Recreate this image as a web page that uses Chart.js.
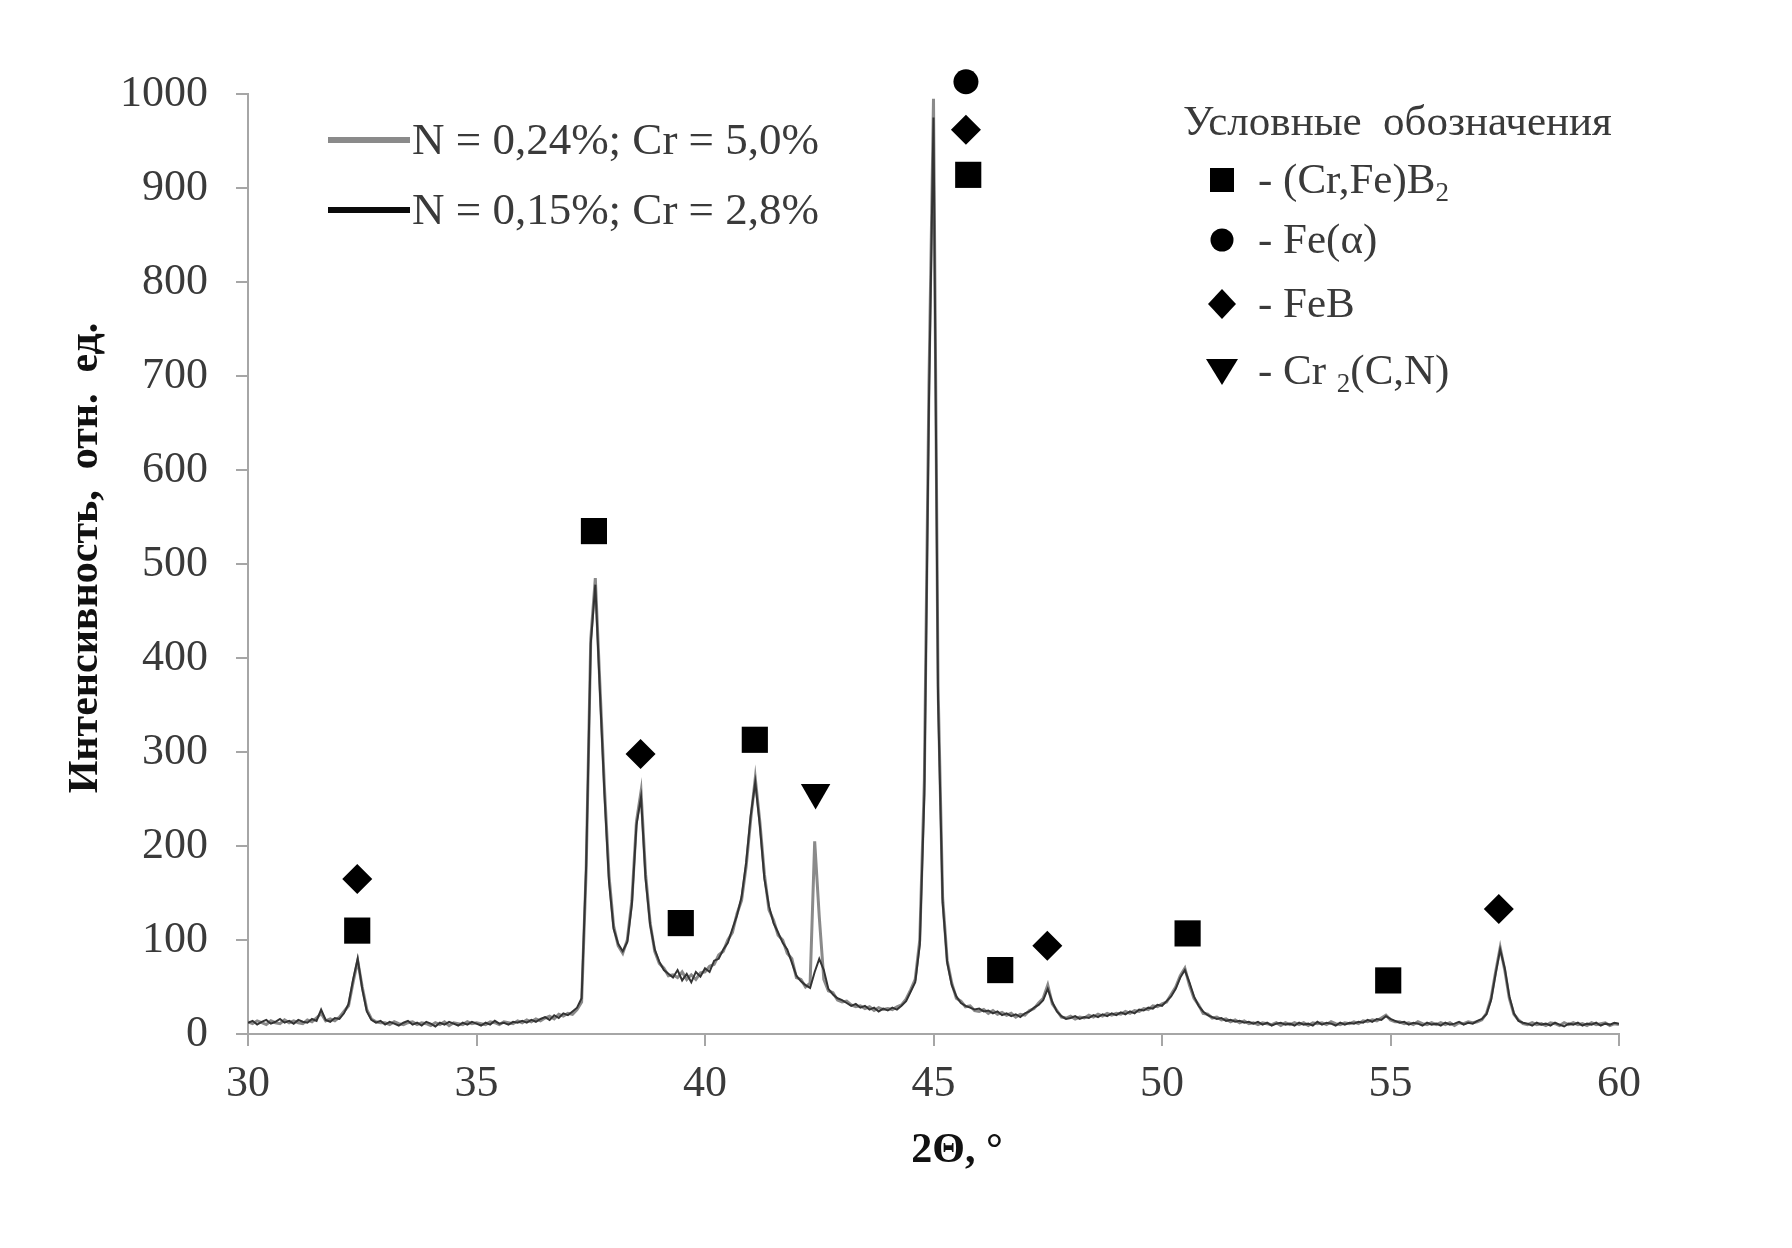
<!DOCTYPE html>
<html>
<head>
<meta charset="utf-8">
<title>XRD</title>
<script src="https://cdn.jsdelivr.net/npm/chart.js@4.4.1/dist/chart.umd.min.js"></script>
<style>
  html, body { margin: 0; padding: 0; background: #fff; }
  #wrap { width: 1792px; height: 1248px; }
</style>
</head>
<body>
<div id="wrap"><canvas id="xrd"></canvas></div>
<script>
// 2Theta grid, degrees
const twoTheta = [
  30.0, 30.1, 30.2, 30.3, 30.4, 30.5, 30.6, 30.7, 30.8, 30.9,
  31.0, 31.1, 31.2, 31.3, 31.4, 31.5, 31.6, 31.7, 31.8, 31.9,
  32.0, 32.1, 32.2, 32.3, 32.4, 32.5, 32.6, 32.7, 32.8, 32.9,
  33.0, 33.1, 33.2, 33.3, 33.4, 33.5, 33.6, 33.7, 33.8, 33.9,
  34.0, 34.1, 34.2, 34.3, 34.4, 34.5, 34.6, 34.7, 34.8, 34.9,
  35.0, 35.1, 35.2, 35.3, 35.4, 35.5, 35.6, 35.7, 35.8, 35.9,
  36.0, 36.1, 36.2, 36.3, 36.4, 36.5, 36.6, 36.7, 36.8, 36.9,
  37.0, 37.1, 37.2, 37.3, 37.4, 37.5, 37.6, 37.7, 37.8, 37.9,
  38.0, 38.1, 38.2, 38.3, 38.4, 38.5, 38.6, 38.7, 38.8, 38.9,
  39.0, 39.1, 39.2, 39.3, 39.4, 39.5, 39.6, 39.7, 39.8, 39.9,
  40.0, 40.1, 40.2, 40.3, 40.4, 40.5, 40.6, 40.7, 40.8, 40.9,
  41.0, 41.1, 41.2, 41.3, 41.4, 41.5, 41.6, 41.7, 41.8, 41.9,
  42.0, 42.1, 42.2, 42.3, 42.4, 42.5, 42.6, 42.7, 42.8, 42.9,
  43.0, 43.1, 43.2, 43.3, 43.4, 43.5, 43.6, 43.7, 43.8, 43.9,
  44.0, 44.1, 44.2, 44.3, 44.4, 44.5, 44.6, 44.7, 44.8, 44.9,
  45.0, 45.1, 45.2, 45.3, 45.4, 45.5, 45.6, 45.7, 45.8, 45.9,
  46.0, 46.1, 46.2, 46.3, 46.4, 46.5, 46.6, 46.7, 46.8, 46.9,
  47.0, 47.1, 47.2, 47.3, 47.4, 47.5, 47.6, 47.7, 47.8, 47.9,
  48.0, 48.1, 48.2, 48.3, 48.4, 48.5, 48.6, 48.7, 48.8, 48.9,
  49.0, 49.1, 49.2, 49.3, 49.4, 49.5, 49.6, 49.7, 49.8, 49.9,
  50.0, 50.1, 50.2, 50.3, 50.4, 50.5, 50.6, 50.7, 50.8, 50.9,
  51.0, 51.1, 51.2, 51.3, 51.4, 51.5, 51.6, 51.7, 51.8, 51.9,
  52.0, 52.1, 52.2, 52.3, 52.4, 52.5, 52.6, 52.7, 52.8, 52.9,
  53.0, 53.1, 53.2, 53.3, 53.4, 53.5, 53.6, 53.7, 53.8, 53.9,
  54.0, 54.1, 54.2, 54.3, 54.4, 54.5, 54.6, 54.7, 54.8, 54.9,
  55.0, 55.1, 55.2, 55.3, 55.4, 55.5, 55.6, 55.7, 55.8, 55.9,
  56.0, 56.1, 56.2, 56.3, 56.4, 56.5, 56.6, 56.7, 56.8, 56.9,
  57.0, 57.1, 57.2, 57.3, 57.4, 57.5, 57.6, 57.7, 57.8, 57.9,
  58.0, 58.1, 58.2, 58.3, 58.4, 58.5, 58.6, 58.7, 58.8, 58.9,
  59.0, 59.1, 59.2, 59.3, 59.4, 59.5, 59.6, 59.7, 59.8, 59.9,
  60.0
];

// N = 0,24%; Cr = 5,0%  (gray curve)
const intensityN24 = [
  13, 11, 14, 12, 10, 14, 12, 11, 15, 12,
  14, 12, 11, 15, 13, 17, 22, 14, 16, 14,
  18, 24, 30, 55, 78, 50, 26, 16, 13, 12,
  12, 10, 13, 11, 10, 12, 13, 10, 12, 11,
  9, 12, 10, 13, 9, 12, 11, 10, 13, 11,
  12, 11, 10, 13, 12, 10, 13, 12, 11, 14,
  12, 15, 13, 16, 14, 17, 19, 16, 21, 19,
  22, 21, 26, 34, 175, 420, 485, 372, 262, 168,
  115, 94, 86, 100, 142, 226, 258, 170, 118, 88,
  75, 70, 62, 63, 60, 66, 58, 63, 58, 65,
  66, 72, 74, 84, 88, 100, 108, 128, 142, 178,
  228, 272, 226, 170, 132, 121, 105, 100, 86, 80,
  60, 58, 50, 54, 205, 125, 58, 46, 44, 36,
  34, 35, 31, 29, 30, 27, 29, 25, 28, 26,
  27, 26, 29, 31, 37, 47, 58, 100, 270, 690,
  995, 370, 145, 78, 54, 38, 35, 29, 30, 25,
  24, 26, 22, 25, 21, 23, 20, 22, 18, 21,
  20, 25, 27, 33, 38, 52, 32, 25, 18, 17,
  19, 16, 18, 17, 20, 18, 21, 19, 22, 20,
  22, 21, 24, 22, 25, 24, 27, 26, 30, 29,
  32, 34, 42, 50, 62, 70, 52, 38, 31, 22,
  21, 17, 18, 15, 16, 13, 15, 12, 14, 11,
  12, 10, 12, 11, 10, 12, 9, 12, 10, 12,
  10, 12, 9, 12, 11, 12, 10, 13, 11, 10,
  12, 11, 13, 11, 14, 13, 15, 14, 17, 20,
  15, 13, 13, 11, 12, 10, 13, 11, 10, 12,
  10, 12, 10, 12, 9, 12, 11, 13, 12, 13,
  15, 22, 38, 66, 92, 68, 38, 21, 15, 11,
  10, 12, 10, 11, 9, 12, 11, 9, 12, 10,
  12, 10, 11, 9, 12, 10, 11, 12, 9, 11,
  10
];

// N = 0,15%; Cr = 2,8%  (black curve)
const intensityN15 = [
  12, 14, 10, 13, 15, 11, 13, 16, 12, 14,
  11, 15, 13, 12, 16, 14, 26, 15, 13, 17,
  16, 22, 32, 58, 80, 48, 24, 15, 12, 14,
  10, 13, 11, 9, 12, 14, 10, 12, 9, 13,
  11, 8, 12, 10, 13, 11, 9, 12, 10, 13,
  11, 9, 12, 10, 14, 11, 12, 10, 13, 12,
  14, 12, 15, 13, 16, 18, 15, 20, 17, 22,
  20, 24, 28, 38, 180, 415, 478, 365, 255, 162,
  112, 96, 88, 98, 138, 222, 252, 165, 116, 90,
  77, 68, 64, 60, 68, 57, 64, 55, 66, 61,
  70, 66, 78, 80, 90, 97, 112, 126, 146, 182,
  232, 268, 222, 165, 136, 118, 108, 97, 90, 76,
  62, 56, 52, 49, 66, 80, 68, 48, 42, 38,
  36, 33, 30, 32, 28, 30, 26, 28, 24, 27,
  25, 28, 26, 30, 35, 45, 55, 95, 255, 670,
  975, 355, 140, 76, 52, 40, 33, 30, 28, 26,
  27, 24, 25, 22, 24, 20, 22, 19, 21, 18,
  22, 24, 28, 31, 36, 48, 34, 24, 19, 16,
  17, 19, 16, 18, 17, 20, 18, 21, 19, 22,
  20, 23, 21, 24, 22, 26, 25, 28, 27, 31,
  30, 35, 40, 48, 60, 68, 55, 40, 30, 24,
  20, 18, 16, 17, 14, 15, 13, 14, 12, 13,
  11, 13, 10, 12, 9, 11, 12, 10, 11, 9,
  12, 10, 11, 9, 13, 10, 12, 11, 9, 12,
  10, 12, 11, 13, 12, 15, 13, 16, 15, 19,
  16, 14, 12, 13, 10, 12, 11, 9, 12, 10,
  11, 9, 12, 10, 11, 13, 10, 12, 11, 14,
  16, 21, 36, 64, 90, 70, 40, 22, 14, 12,
  11, 9, 12, 10, 11, 9, 12, 10, 8, 11,
  10, 12, 9, 11, 10, 12, 9, 11, 10, 12,
  11
];

// phase markers (placed above the peaks)
const crfeb2X = [32.39, 37.57, 39.47, 41.09, 45.76, 46.46, 50.56, 54.95];
const crfeb2Y = [110, 535, 118, 313, 914, 68, 107, 57];
const feAlphaX = [45.71];
const feAlphaY = [1013];
const febX = [32.39, 38.59, 45.71, 47.49, 57.37];
const febY = [165, 298, 962, 94, 133];
const cr2cnX = [42.42];
const cr2cnY = [257];

const seriesLabels = ['N = 0,24%; Cr = 5,0%', 'N = 0,15%; Cr = 2,8%'];
const seriesColors = ['#8a8a8a', '#333333'];

const SERIF = "'Liberation Serif', 'Times New Roman', serif";
const TEXT = '#3a3a3a';
const AXIS = '#a6a6a6';

function toPoints(xs, ys) {
  return xs.map((x, i) => ({ x: x, y: ys[i] }));
}

function markerSet(label, xs, ys, style, r, rot) {
  return {
    type: 'scatter',
    label: label,
    data: toPoints(xs, ys),
    pointStyle: style,
    pointRadius: r,
    pointRotation: rot || 0,
    pointBackgroundColor: '#000',
    pointBorderColor: '#000',
    pointBorderWidth: 0,
    showLine: false,
    clip: false
  };
}

// own drawing of the symbols for the phase legend
function drawSymbol(ctx, kind, x, y) {
  ctx.save();
  ctx.fillStyle = '#000';
  ctx.beginPath();
  if (kind === 'square') {
    ctx.rect(x - 12, y - 12, 24, 24);
  } else if (kind === 'circle') {
    ctx.arc(x, y, 11.5, 0, Math.PI * 2);
  } else if (kind === 'diamond') {
    ctx.moveTo(x, y - 15); ctx.lineTo(x + 14, y); ctx.lineTo(x, y + 15); ctx.lineTo(x - 14, y);
  } else if (kind === 'triangle') {
    ctx.moveTo(x - 16, y - 12); ctx.lineTo(x + 16, y - 12); ctx.lineTo(x, y + 14);
  }
  ctx.closePath();
  ctx.fill();
  ctx.restore();
}

// text with a subscript piece: parts = [[text, isSub], ...]
function drawRich(ctx, parts, x, y, size) {
  let cx = x;
  parts.forEach(p => {
    const sub = p[1];
    ctx.font = (sub ? Math.round(size * 0.62) : size) + 'px ' + SERIF;
    ctx.fillText(p[0], cx, sub ? y + size * 0.28 : y);
    cx += ctx.measureText(p[0]).width;
  });
}

const annotations = {
  id: 'annotations',
  afterDraw(chart) {
    const ctx = chart.ctx;
    ctx.save();
    ctx.fillStyle = TEXT;
    ctx.textBaseline = 'middle';
    ctx.textAlign = 'left';

    // series legend
    const rows = [140, 210];
    const sampleColors = ['#8a8a8a', '#0a0a0a'];
    seriesLabels.forEach((lab, i) => {
      ctx.strokeStyle = sampleColors[i];
      ctx.lineWidth = 6;
      ctx.beginPath();
      ctx.moveTo(328, rows[i]);
      ctx.lineTo(410, rows[i]);
      ctx.stroke();
      ctx.fillStyle = TEXT;
      ctx.font = '45px ' + SERIF;
      ctx.fillText(lab, 412, rows[i] + 2);
    });

    // phase legend
    ctx.font = '43px ' + SERIF;
    ctx.fillText('Условные  обозначения', 1183, 124);
    const items = [
      ['square', 180, [['- (Cr,Fe)B', false], ['2', true]]],
      ['circle', 240, [['- Fe(α)', false]]],
      ['diamond', 304, [['- FeB', false]]],
      ['triangle', 371, [['- Cr ', false], ['2', true], ['(C,N)', false]]]
    ];
    items.forEach(it => {
      drawSymbol(ctx, it[0], 1222, it[1]);
      ctx.fillStyle = TEXT;
      drawRich(ctx, it[2], 1258, it[1] + 2, 43);
    });

    // axis titles
    ctx.fillStyle = '#111';
    ctx.font = 'bold 42px ' + SERIF;
    ctx.textAlign = 'center';
    ctx.fillText('2Θ, °', 957, 1151);
    ctx.translate(86, 558);
    ctx.rotate(-Math.PI / 2);
    ctx.fillText('Интенсивность,  отн.  ед.', 0, 0);
    ctx.restore();
  }
};

const ctx = document.getElementById('xrd').getContext('2d');
const chart = new Chart(ctx, {
  type: 'line',
  data: {
    datasets: [
      markerSet('(Cr,Fe)B2', crfeb2X, crfeb2Y, 'rect', 18.5),
      markerSet('Fe(α)', feAlphaX, feAlphaY, 'circle', 12.5),
      markerSet('FeB', febX, febY, 'rectRot', 15),
      markerSet('Cr2(C,N)', cr2cnX, cr2cnY, 'triangle', 17, 180),
      {
        label: seriesLabels[1],
        data: toPoints(twoTheta, intensityN15),
        borderColor: seriesColors[1],
        borderWidth: 2,
        pointRadius: 0,
        tension: 0
      },
      {
        label: seriesLabels[0],
        data: toPoints(twoTheta, intensityN24),
        borderColor: seriesColors[0],
        borderWidth: 3,
        pointRadius: 0,
        tension: 0
      }
    ]
  },
  options: {
    responsive: true,
    maintainAspectRatio: false,
    animation: false,
    devicePixelRatio: 1,
    layout: { padding: { top: 94, right: 173, left: 0, bottom: 0 } },
    plugins: {
      legend: { display: false },
      tooltip: { enabled: false }
    },
    scales: {
      x: {
        type: 'linear',
        min: 30,
        max: 60,
        afterFit: s => { s.height = 1248 - 1034; },
        ticks: {
          stepSize: 5,
          padding: 12,
          color: TEXT,
          font: { family: SERIF, size: 44 },
          callback: v => String(v)
        },
        grid: { drawOnChartArea: false, tickLength: 12, color: AXIS, lineWidth: 2 },
        border: { color: AXIS, width: 2 }
      },
      y: {
        min: 0,
        max: 1000,
        afterFit: s => { s.width = 248; },
        ticks: {
          stepSize: 100,
          padding: 28,
          color: TEXT,
          font: { family: SERIF, size: 44 },
          callback: v => String(v)
        },
        grid: { drawOnChartArea: false, tickLength: 12, color: AXIS, lineWidth: 2 },
        border: { color: AXIS, width: 2 }
      }
    }
  },
  plugins: [annotations]
});
</script>
</body>
</html>
